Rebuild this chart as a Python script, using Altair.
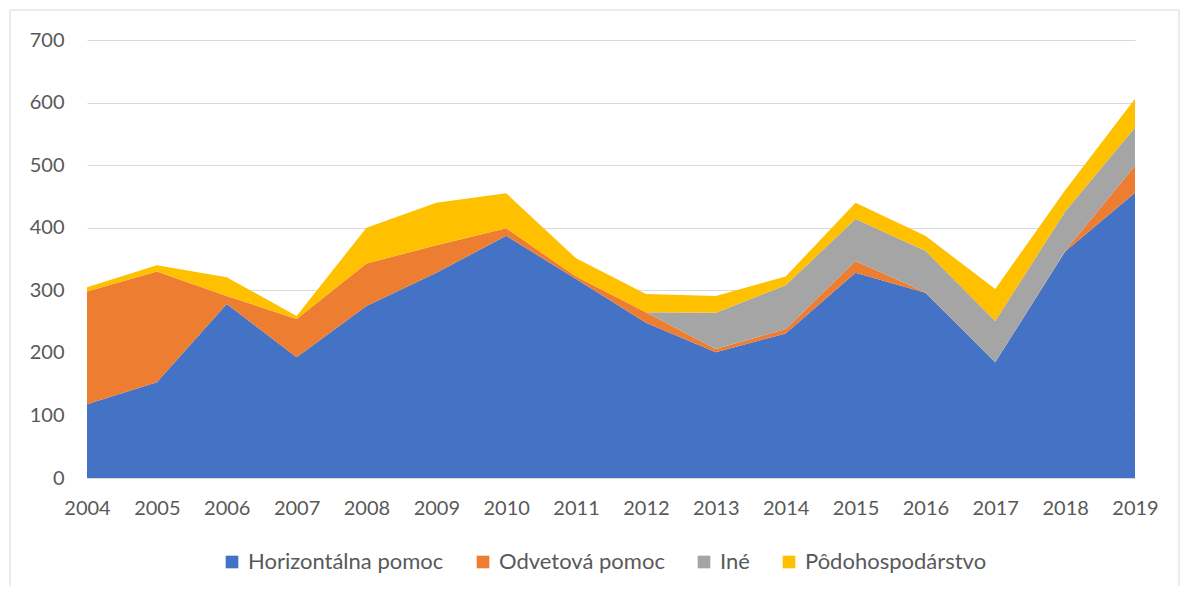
import altair as alt
import pandas as pd

years = [str(y) for y in range(2004, 2020)]
series = ["Horizontálna pomoc", "Odvetová pomoc", "Iné", "Pôdohospodárstvo"]
horizontalna = [118, 153, 278, 193, 275, 328, 387, 318, 248, 201, 231, 328, 296, 185, 362, 456]
odvetova = [180, 177, 13, 61, 68, 44, 12, 4, 17, 5, 7, 19, 1, 0, 1, 43]
ine = [0, 0, 0, 0, 0, 0, 0, 0, 0, 58, 70, 67, 66, 66, 63, 61]
podohosp = [7, 10, 30, 5, 57, 68, 56, 29, 29, 27, 14, 26, 24, 51, 34, 46]
colors = ["#4472C4", "#ED7D31", "#A5A5A5", "#FFC000"]

rows = []
for i, (name, vals) in enumerate(zip(series, [horizontalna, odvetova, ine, podohosp])):
    for y, v in zip(years, vals):
        rows.append({"rok": y, "séria": name, "hodnota": v, "poradie": i})
df = pd.DataFrame(rows)

FONT = "Lato"
TXT = "#595959"

area = alt.Chart(df).mark_area(opacity=1).encode(
    x=alt.X("rok:O", scale=alt.Scale(type="point", padding=0),
            axis=alt.Axis(title=None, labelAngle=0, ticks=False, labelPadding=20,
                          domainColor="#d9d9d9", labelFontSize=20, labelColor=TXT,
                          labelFont=FONT)),
    y=alt.Y("hodnota:Q", stack="zero", scale=alt.Scale(domain=[0, 700]),
            axis=alt.Axis(title=None, values=list(range(0, 701, 100)), ticks=False,
                          domain=False, labelPadding=23, gridColor="#d9d9d9",
                          labelFontSize=20, labelColor=TXT, labelFont=FONT)),
    color=alt.Color("séria:N", scale=alt.Scale(domain=series, range=colors),
                    legend=alt.Legend(title=None, orient="none", direction="horizontal",
                                      columns=4, legendX=134, legendY=511,
                                      symbolType="square", symbolSize=160,
                                      symbolStrokeWidth=0, labelFontSize=22,
                                      labelColor=TXT, labelFont=FONT, labelLimit=500,
                                      columnPadding=28, labelOffset=5)),
    order=alt.Order("poradie:Q", sort="ascending"),
)

border = alt.Chart(pd.DataFrame({"a": [0]})).mark_rect(
    fill=None, stroke="#d9d9d9", strokeWidth=1
).encode(x=alt.value(-77), x2=alt.value(1092), y=alt.value(-30), y2=alt.value(600))

chart = alt.layer(area, border).properties(
    width=1048, height=438,
    autosize=alt.AutoSizeParams(type="none"),
    padding={"left": 79, "top": 32, "right": 45, "bottom": 108},
).configure_view(stroke=None)

chart.save("out.html", embed_options={"renderer": "svg", "actions": False})
